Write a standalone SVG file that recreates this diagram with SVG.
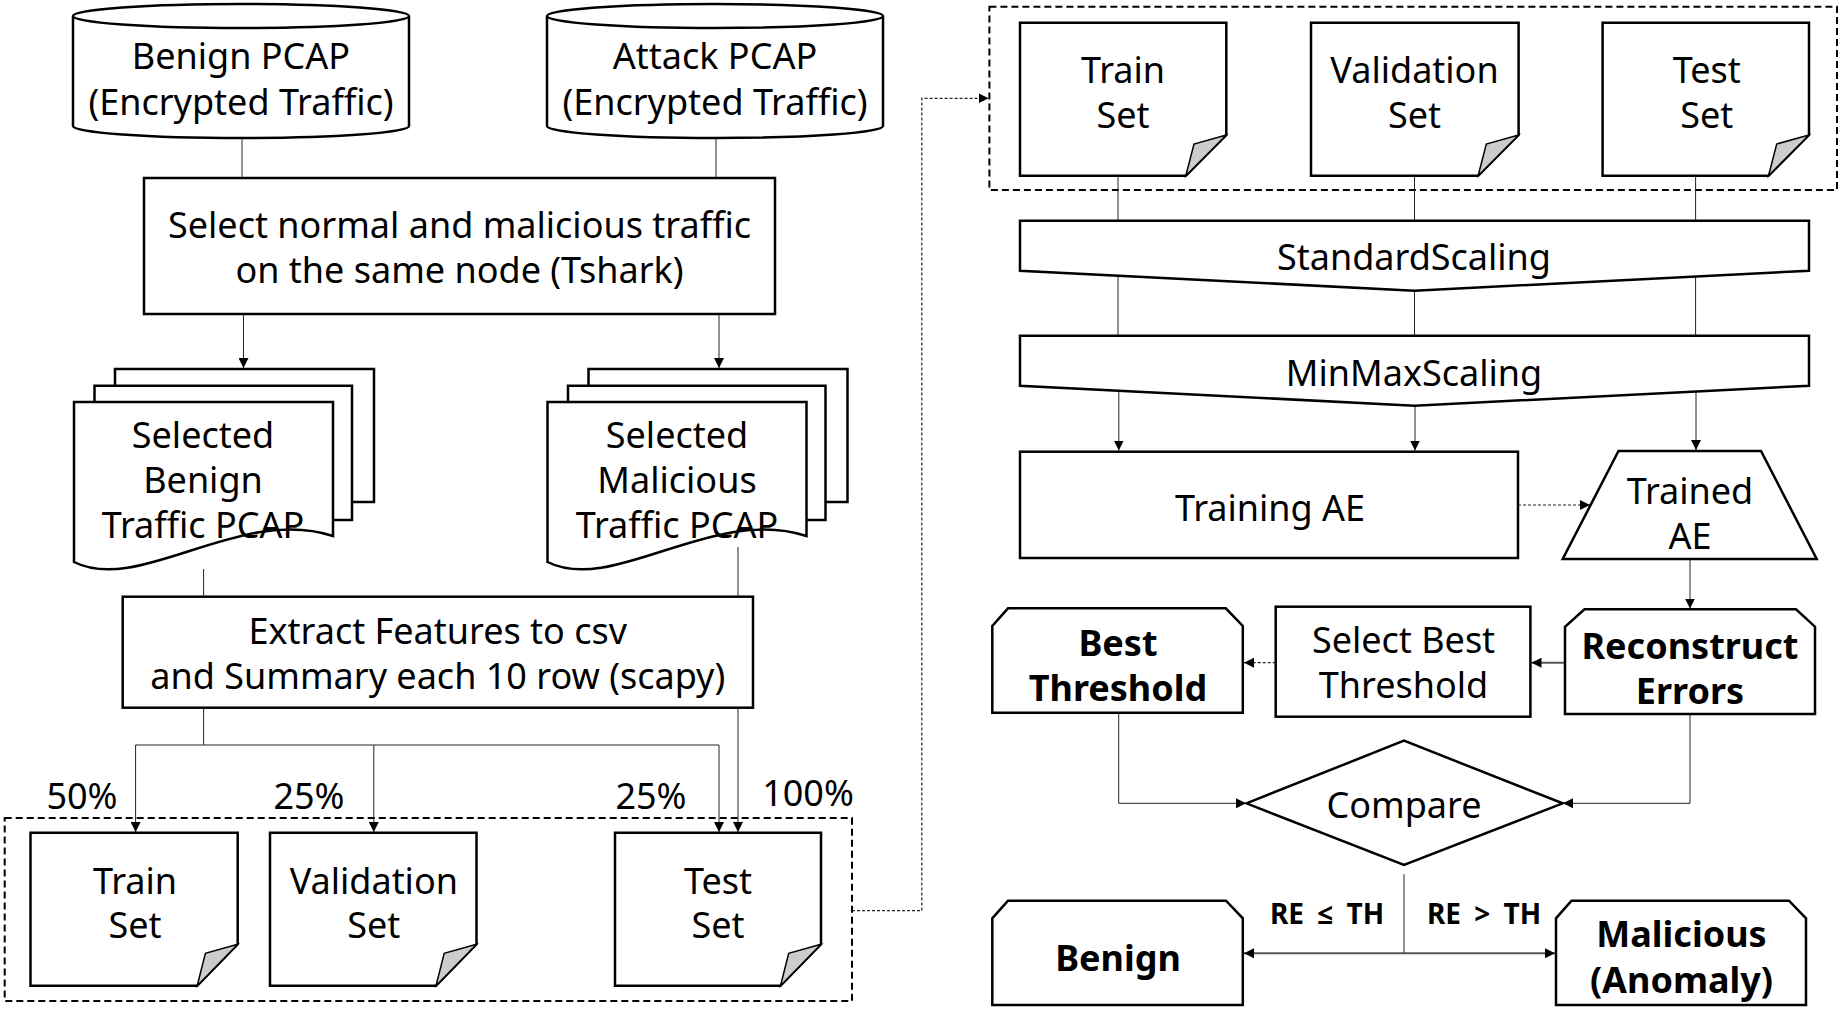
<svg xmlns="http://www.w3.org/2000/svg" width="1842" height="1014" viewBox="0 0 1842 1014">
<style>
.s{fill:#fff;stroke:#000;stroke-width:2.5}
.t{font-family:"Noto Sans","Open Sans",sans-serif;font-size:36px;fill:#000;text-anchor:middle}
.b{font-weight:bold}
.c{fill:none;stroke:#222;stroke-width:1}
.cg{fill:none;stroke:#555;stroke-width:2}
.d{fill:none;stroke:#222;stroke-width:1.2;stroke-dasharray:3 2}
.box{fill:none;stroke:#000;stroke-width:2;stroke-dasharray:7 4}
.fold{fill:#ccc;stroke:#000;stroke-width:1.5}
.lbl{font-family:"Noto Sans","Open Sans",sans-serif;font-size:28px;font-weight:bold;text-anchor:middle;word-spacing:6px}
</style>
<defs>
<marker id="a" viewBox="0 0 10 10" refX="10" refY="5" markerWidth="10" markerHeight="10" markerUnits="userSpaceOnUse" orient="auto"><path d="M0,0 L10,5 L0,10 Z" fill="#000"/></marker>
</defs>

<g id="benign-pcap">
<path class="s" d="M73,16 A168,12 0 0 1 409,16 V126 A168,12 0 0 1 73,126 Z"/>
<path class="s" d="M73,16 A168,12 0 0 0 409,16" fill="none"/>
<text class="t" x="241" y="69">Benign PCAP</text>
<text class="t" x="241" y="114.5">(Encrypted Traffic)</text>
</g>
<g id="attack-pcap">
<path class="s" d="M547,16 A168,12 0 0 1 883,16 V126 A168,12 0 0 1 547,126 Z"/>
<path class="s" d="M547,16 A168,12 0 0 0 883,16" fill="none"/>
<text class="t" x="715" y="69">Attack PCAP</text>
<text class="t" x="715" y="114.5">(Encrypted Traffic)</text>
</g>
<g id="select-traffic">
<rect class="s" x="144" y="178" width="631" height="136"/>
<text class="t" x="459.5" y="237.5">Select normal and malicious traffic</text>
<text class="t" x="459.5" y="283">on the same node (Tshark)</text>
</g>
<g id="selected-benign">
<path class="s" d="M115,385.7 V369 H374 V502 H352"/>
<path class="s" d="M94.5,402 V385.7 H352 V520 H333"/>
<path class="s" d="M74,402 H333 V536 C240,505 140,595 74,562 Z"/>
<text class="t" x="203" y="448">Selected</text>
<text class="t" x="203" y="493">Benign</text>
<text class="t" x="203" y="538">Traffic PCAP</text>
</g>
<g id="selected-malicious">
<g transform="translate(473.5 0)">
<path class="s" d="M115,385.7 V369 H374 V502 H352"/>
<path class="s" d="M94.5,402 V385.7 H352 V520 H333"/>
<path class="s" d="M74,402 H333 V536 C240,505 140,595 74,562 Z"/>
</g>
<text class="t" x="677" y="448">Selected</text>
<text class="t" x="677" y="493">Malicious</text>
<text class="t" x="677" y="538">Traffic PCAP</text>
</g>
<g id="extract">
<rect class="s" x="122.7" y="596.7" width="630.3" height="111"/>
<text class="t" x="437.8" y="643.5">Extract Features to csv</text>
<text class="t" x="437.8" y="689">and Summary each 10 row (scapy)</text>
</g>

<g id="left-sets">
<rect class="box" x="4.7" y="818" width="847.3" height="183"/>
<g id="l-train">
<path class="s" d="M30.5,832.7 H237.7 V944.3 L197.2,985.7 H30.5 Z"/>
<path class="fold" d="M237.7,944.3 L197.2,985.7 L205.4,953.3 Z"/>
<text class="t" x="135" y="893.5">Train</text>
<text class="t" x="135" y="938">Set</text>
</g>
<g id="l-val">
<path class="s" d="M270,832.7 H476.5 V944.3 L436,985.7 H270 Z"/>
<path class="fold" d="M476.5,944.3 L436,985.7 L444.2,953.3 Z"/>
<text class="t" x="373.8" y="893.5">Validation</text>
<text class="t" x="373.8" y="938">Set</text>
</g>
<g id="l-test">
<path class="s" d="M615,832.7 H821 V944.3 L780.5,985.7 H615 Z"/>
<path class="fold" d="M821,944.3 L780.5,985.7 L788.7,953.3 Z"/>
<text class="t" x="718" y="893.5">Test</text>
<text class="t" x="718" y="938">Set</text>
</g>
</g>

<g id="right-sets">
<rect class="box" x="989.4" y="6.7" width="847.6" height="183.3"/>
<g id="r-train">
<path class="s" d="M1020,22.7 H1226.3 V135 L1185.8,175.7 H1020 Z"/>
<path class="fold" d="M1226.3,135 L1185.8,175.7 L1194,144 Z"/>
<text class="t" x="1123" y="83">Train</text>
<text class="t" x="1123" y="128">Set</text>
</g>
<g id="r-val">
<path class="s" d="M1311,22.7 H1518.6 V135 L1478.1,175.7 H1311 Z"/>
<path class="fold" d="M1518.6,135 L1478.1,175.7 L1486.3,144 Z"/>
<text class="t" x="1414.5" y="83">Validation</text>
<text class="t" x="1414.5" y="128">Set</text>
</g>
<g id="r-test">
<path class="s" d="M1602.6,22.7 H1809 V135 L1768.5,175.7 H1602.6 Z"/>
<path class="fold" d="M1809,135 L1768.5,175.7 L1776.7,144 Z"/>
<text class="t" x="1706.7" y="83">Test</text>
<text class="t" x="1706.7" y="128">Set</text>
</g>
</g>

<g id="connectors">
<path class="c" d="M242,138 V178"/>
<path class="c" d="M716,138 V178"/>
<path class="c" d="M243.5,314 V368" marker-end="url(#a)"/>
<path class="c" d="M719,314 V368" marker-end="url(#a)"/>
<path class="c" d="M203.6,569 V596.7"/>
<path class="c" d="M738,547 V596.7"/>
<path class="c" d="M203.6,707.7 V745 H135.6 V832" marker-end="url(#a)"/>
<path class="c" d="M203.6,745 H373.8 V832" marker-end="url(#a)"/>
<path class="c" d="M373.8,745 H719 V832" marker-end="url(#a)"/>
<path class="c" d="M738,707.7 V832" marker-end="url(#a)"/>
<path class="d" d="M852,910.7 H921.8 V98.3 H988.5" marker-end="url(#a)"/>
<path class="c" d="M1118,175.7 V220.7"/>
<path class="c" d="M1414.5,175.7 V220.7"/>
<path class="c" d="M1695.6,175.7 V220.7"/>
<path class="c" d="M1118,275.7 V335.7"/>
<path class="c" d="M1414.5,290.7 V335.7"/>
<path class="c" d="M1695.6,276.4 V335.7"/>
<path class="c" d="M1118.8,390.7 V450.5" marker-end="url(#a)"/>
<path class="c" d="M1415,405.7 V450.5" marker-end="url(#a)"/>
<path class="c" d="M1696,391.4 V450" marker-end="url(#a)"/>
<path class="d" d="M1518,505 H1590" marker-end="url(#a)"/>
<path class="c" d="M1690,559 V608.5" marker-end="url(#a)"/>
<path class="cg" d="M1565,662.7 H1531.5" marker-end="url(#a)"/>
<path class="d" d="M1275.7,662.7 H1244" marker-end="url(#a)"/>
<path class="c" d="M1118.7,712.7 V803.3 H1246" marker-end="url(#a)"/>
<path class="c" d="M1690,714 V803.3 H1563" marker-end="url(#a)"/>
<path class="c" d="M1404,874.3 V953.3"/>
<path class="cg" d="M1404,953.3 H1244" marker-end="url(#a)"/>
<path class="cg" d="M1404,953.3 H1555" marker-end="url(#a)"/>
</g>

<g id="standard-scaling">
<path class="s" d="M1020,220.7 H1809 V270.7 L1414.5,290.7 L1020,270.7 Z"/>
<text class="t" x="1414" y="270">StandardScaling</text>
</g>
<g id="minmax-scaling">
<path class="s" d="M1020,335.7 H1809 V385.7 L1414.5,405.7 L1020,385.7 Z"/>
<text class="t" x="1414" y="385.5">MinMaxScaling</text>
</g>
<g id="training-ae">
<rect class="s" x="1020" y="451.7" width="498" height="106.3"/>
<text class="t" x="1270" y="520.5">Training AE</text>
</g>
<g id="trained-ae">
<path class="s" d="M1618.5,451 H1761 L1816.7,559 H1562.7 Z"/>
<text class="t" x="1690" y="504">Trained</text>
<text class="t" x="1690" y="549">AE</text>
</g>
<g id="reconstruct-errors">
<path class="s" d="M1584.5,609.3 H1796 L1815,626.7 V714 H1565 V626.7 Z"/>
<text class="t b" x="1690" y="659">Reconstruct</text>
<text class="t b" x="1690" y="704">Errors</text>
</g>
<g id="select-best">
<rect class="s" x="1275.7" y="606.7" width="254.7" height="110"/>
<text class="t" x="1403.5" y="653">Select Best</text>
<text class="t" x="1403.5" y="698">Threshold</text>
</g>
<g id="best-threshold">
<path class="s" d="M1008,608.3 H1225.8 L1242.8,626 V712.7 H992.3 V626 Z"/>
<text class="t b" x="1118" y="656">Best</text>
<text class="t b" x="1118" y="701">Threshold</text>
</g>
<g id="compare">
<path class="s" d="M1246.4,803.3 L1404,740.7 L1562.7,803.3 L1404,865 Z"/>
<text class="t" x="1404" y="818">Compare</text>
</g>
<g id="labels">
<text class="t" x="82" y="809">50%</text>
<text class="t" x="309" y="809">25%</text>
<text class="t" x="651" y="809">25%</text>
<text class="t" x="808" y="806">100%</text>
<text class="lbl" x="1327" y="924">RE ≤ TH</text>
<text class="lbl" x="1484" y="924">RE &gt; TH</text>
</g>
<g id="benign">
<path class="s" d="M1008,900.7 H1226 L1242.8,918.3 V1005 H992.3 V918.3 Z"/>
<text class="t b" x="1118" y="971">Benign</text>
</g>
<g id="malicious">
<path class="s" d="M1571.5,900.7 H1789 L1806,918.3 V1005 H1556 V918.3 Z"/>
<text class="t b" x="1681.5" y="947">Malicious</text>
<text class="t b" x="1681.5" y="993">(Anomaly)</text>
</g>
</svg>
